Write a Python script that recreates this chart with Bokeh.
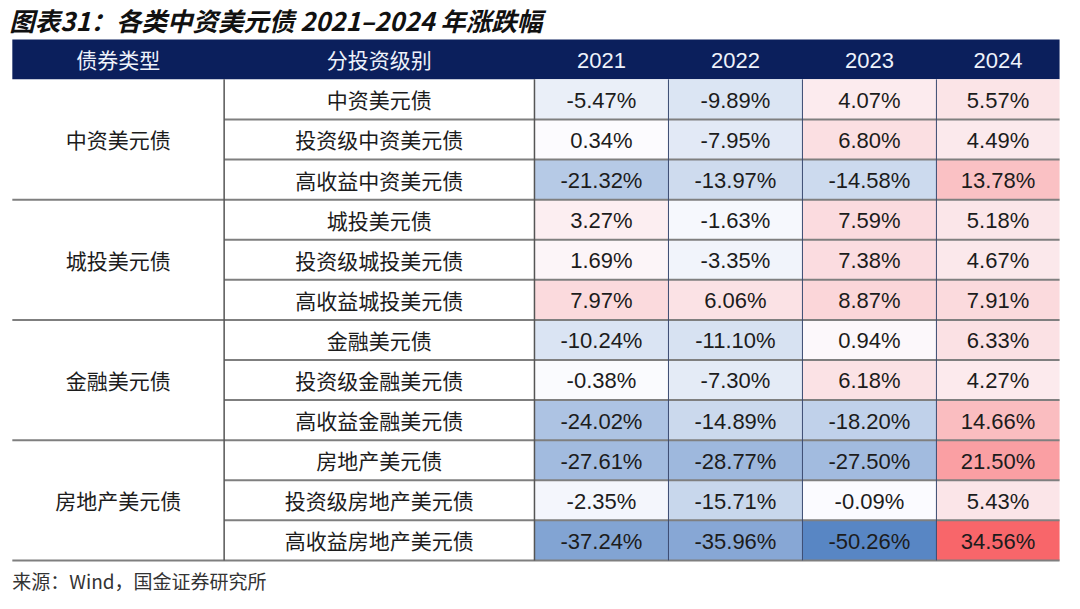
import numpy as np
from bokeh.plotting import figure
from bokeh.models import Range1d
from bokeh.core.properties import value
from bokeh.embed import file_html
from bokeh.resources import INLINE

# ---------------- data ----------------
title_text = "图表31：各类中资美元债 2021–2024 年涨跌幅"
source_text = "来源：Wind，国金证券研究所"
header_labels = ["债券类型", "分投资级别"]
years = ["2021", "2022", "2023", "2024"]
groups = ["中资美元债", "城投美元债", "金融美元债", "房地产美元债"]
subcategories = [
    "中资美元债", "投资级中资美元债", "高收益中资美元债",
    "城投美元债", "投资级城投美元债", "高收益城投美元债",
    "金融美元债", "投资级金融美元债", "高收益金融美元债",
    "房地产美元债", "投资级房地产美元债", "高收益房地产美元债",
]
v2021 = [-5.47, 0.34, -21.32, 3.27, 1.69, 7.97, -10.24, -0.38, -24.02, -27.61, -2.35, -37.24]
v2022 = [-9.89, -7.95, -13.97, -1.63, -3.35, 6.06, -11.10, -7.30, -14.89, -28.77, -15.71, -35.96]
v2023 = [4.07, 6.80, -14.58, 7.59, 7.38, 8.87, 0.94, 6.18, -18.20, -27.50, -0.09, -50.26]
v2024 = [5.57, 4.49, 13.78, 5.18, 4.67, 7.91, 6.33, 4.27, 14.66, 21.50, 5.43, 34.56]
series = [v2021, v2022, v2023, v2024]

# ---------------- layout (reference pixel space) ----------------
X0, X1, X2, XR = 12, 227, 542, 1075
year_edges = [542, 678, 814, 950, 1075]
HT, HB = 40, 81
ROW_H = (575 - 81) / 12.0
n_rows = len(subcategories)
per_group = n_rows // len(groups)

def row_top(i):
    return HB + i * ROW_H

# colour scale (Excel style 3-colour: blue / white / red)
all_vals = np.array(series).ravel()
lo, mid, hi = all_vals.min(), np.percentile(all_vals, 50), all_vals.max()
c_lo = np.array([88, 134, 196])
c_mid = np.array([252, 252, 255])
c_hi = np.array([248, 102, 106])

def cell_color(v):
    if v <= mid:
        t = (v - lo) / (mid - lo)
        c = c_lo + t * (c_mid - c_lo)
    else:
        t = (v - mid) / (hi - mid)
        c = c_mid + t * (c_hi - c_mid)
    c = np.clip(np.round(c), 0, 255).astype(int)
    return "#%02x%02x%02x" % tuple(c)

p = figure(width=1064, height=593, x_range=Range1d(0, 1080), y_range=Range1d(609, 0),
           output_backend="svg", toolbar_location=None, min_border=0,
           x_axis_type=None, y_axis_type=None)
p.grid.visible = False
p.outline_line_color = None
p.background_fill_color = "white"
p.border_fill_color = "white"

CJK = value("Noto Sans CJK SC")
LAT = value("Liberation Sans")

# title
p.text(x=[9], y=[19], text=[title_text], text_font=CJK, text_font_size="25.5px",
       text_font_style="bold italic", text_color="#111111",
       text_align="left", text_baseline="middle")

# header band
p.quad(left=[X0], right=[XR], top=[HT], bottom=[HB], fill_color="#0b1f5c", line_color=None)
hx = [(X0 + X1) / 2, (X1 + X2) / 2]
p.text(x=hx, y=[(HT + HB) / 2] * 2, text=header_labels, text_font=CJK, text_font_size="21px",
       text_color="#eef2fb", text_align="center", text_baseline="middle")
yx = [(year_edges[k] + year_edges[k + 1]) / 2 for k in range(4)]
p.text(x=yx, y=[(HT + HB) / 2 + 1] * 4, text=years, text_font=LAT, text_font_size="22px",
       text_color="#eef2fb", text_align="center", text_baseline="middle")

# data cells
L, R, T, B, C, TX, TY, TT = [], [], [], [], [], [], [], []
for k, vals in enumerate(series):
    for i, v in enumerate(vals):
        L.append(year_edges[k]); R.append(year_edges[k + 1])
        T.append(row_top(i)); B.append(row_top(i + 1))
        C.append(cell_color(v))
        TX.append((year_edges[k] + year_edges[k + 1]) / 2)
        TY.append(row_top(i) + ROW_H / 2 + 1)
        TT.append("%.2f%%" % v)
p.quad(left=L, right=R, top=T, bottom=B, fill_color=C, line_color=None)
p.text(x=TX, y=TY, text=TT, text_font=LAT, text_font_size="22px", text_color="#1c1c1c",
       text_align="center", text_baseline="middle")

# sub-category labels
p.text(x=[(X1 + X2) / 2] * n_rows, y=[row_top(i) + ROW_H / 2 for i in range(n_rows)],
       text=subcategories, text_font=CJK, text_font_size="21px", text_color="#1c1c1c",
       text_align="center", text_baseline="middle")
# group labels
p.text(x=[(X0 + X1) / 2] * len(groups),
       y=[row_top(g * per_group) + per_group * ROW_H / 2 for g in range(len(groups))],
       text=groups, text_font=CJK, text_font_size="21px", text_color="#1c1c1c",
       text_align="center", text_baseline="middle")

# horizontal rules
sx0, sx1, sy = [], [], []
for i in range(1, n_rows + 1):
    y = row_top(i)
    sx0.append(X0 if i % per_group == 0 else X1)
    sx1.append(XR)
    sy.append(y)
p.segment(x0=sx0, x1=sx1, y0=sy, y1=sy, line_color="#7f7f7f", line_width=2)

# vertical rules
p.segment(x0=[X1, X2], x1=[X1, X2], y0=[HB, HB], y1=[row_top(n_rows)] * 2,
          line_color="#555555", line_width=1.5)
vx = year_edges[1:4]
p.segment(x0=vx, x1=vx, y0=[HB] * 3, y1=[row_top(n_rows)] * 3,
          line_color="#3a4a70", line_width=1)

# source note
p.text(x=[12], y=[596], text=[source_text], text_font=CJK, text_font_size="19px",
       text_color="#333333", text_align="left", text_baseline="middle")

open("out.html", "w").write(file_html(p, INLINE))
